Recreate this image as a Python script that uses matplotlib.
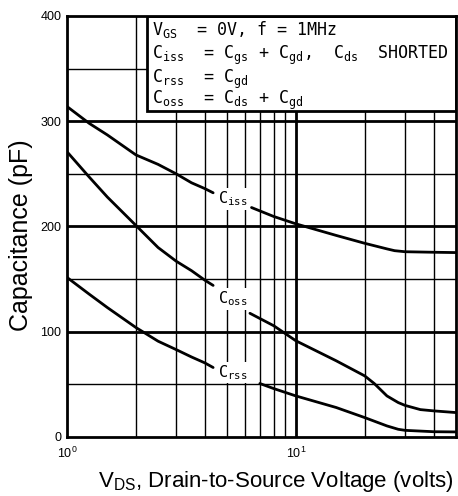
import numpy as np
import matplotlib
matplotlib.use("Agg")
import matplotlib.pyplot as plt
from matplotlib.patches import Rectangle
from matplotlib import font_manager

# ---- data ----
ciss_x1 = [1, 1.25, 1.5, 2, 2.5, 3, 3.5, 4, 4.35]
ciss_y1 = [314, 298, 287, 268, 259, 250, 241.5, 236, 232]
ciss_x2 = [6.4, 8, 10, 15, 20, 25, 27, 30, 40, 50]
ciss_y2 = [218, 209.5, 202.5, 191.5, 184, 178.7, 177, 176, 175.5, 175.2]

coss_x1 = [1, 1.25, 1.5, 2, 2.5, 3, 3.5, 4, 4.35]
coss_y1 = [271, 247, 228, 201, 180, 167, 158, 149, 144]
coss_x2 = [6.3, 8, 10, 15, 20, 22, 25, 28, 30, 35, 40, 50]
coss_y2 = [117.5, 105.7, 91.4, 72.4, 58, 50.8, 39, 32.7, 30, 26, 24.8, 23.2]

crss_x1 = [1, 1.25, 1.5, 2, 2.5, 3, 3.5, 4, 4.35]
crss_y1 = [151.6, 135.7, 123, 104, 91, 83, 76, 70.4, 66]
crss_x2 = [6.96, 8, 10, 15, 20, 25, 28, 30, 40, 50]
crss_y2 = [50.8, 46, 39, 28, 18.4, 10.5, 7.3, 6.3, 5, 4.8]

y_ticks = [0, 100, 200, 300, 400]
x_ticks = [1, 10]
x_ticklabels = ["$10^0$", "$10^1$"]

legend_lines = [
    r"V$_{GS}$  = 0V, f = 1MHz",
    r"C$_{iss}$  = C$_{gs}$ + C$_{gd}$,  C$_{ds}$  SHORTED",
    r"C$_{rss}$  = C$_{gd}$",
    r"C$_{oss}$  = C$_{ds}$ + C$_{gd}$",
]

plt.rcParams['mathtext.default'] = 'regular'

names = {f.name for f in font_manager.fontManager.ttflist}
if 'Liberation Sans Narrow' in names:
    xl_family, xl_size = 'Liberation Sans Narrow', 19.5
else:
    xl_family, xl_size = 'Liberation Sans', 16

fig = plt.figure(figsize=(4.58, 4.96), dpi=100)
ax = fig.add_axes([0.1463, 0.119, 0.849, 0.8488])
ax.set_xscale('log')
ax.set_xlim(1, 50)
ax.set_ylim(0, 400)

# grid
for v in [2, 3, 4, 5, 6, 7, 8, 9, 20, 30, 40]:
    ax.axvline(v, color='black', lw=1.0, zorder=1)
ax.axvline(10, color='black', lw=2.0, zorder=1)
for v in [50, 150, 250, 350]:
    ax.axhline(v, color='black', lw=1.0, zorder=1)
for v in [100, 200, 300]:
    ax.axhline(v, color='black', lw=2.0, zorder=1)

# curves
lw = 2.0
for xs, ys in [(ciss_x1, ciss_y1), (ciss_x2, ciss_y2),
               (coss_x1, coss_y1), (coss_x2, coss_y2),
               (crss_x1, crss_y1), (crss_x2, crss_y2)]:
    ax.plot(xs, ys, color='black', lw=lw, zorder=3,
            solid_joinstyle='round', solid_capstyle='round')

mono = 'DejaVu Sans Mono'
lbl_kw = dict(fontsize=11, family=mono, ha='left', va='center', zorder=4,
              bbox=dict(facecolor='white', edgecolor='none', pad=1.0))
ax.text(4.55, 226, r"C$_{iss}$", **lbl_kw)
ax.text(4.55, 131, r"C$_{oss}$", **lbl_kw)
ax.text(4.55, 61, r"C$_{rss}$", **lbl_kw)

# legend box
rect = Rectangle((0.206, 0.774), 0.794, 0.226, transform=ax.transAxes,
                 facecolor='white', edgecolor='black', lw=2.0, zorder=5)
ax.add_patch(rect)
ys_txt = [0.955, 0.898, 0.841, 0.791]
for s, yy in zip(legend_lines, ys_txt):
    ax.text(0.218, yy, s, transform=ax.transAxes, fontsize=12, family=mono,
            ha='left', va='baseline', zorder=6)

for sp in ax.spines.values():
    sp.set_linewidth(2.0)
    sp.set_zorder(7)

ax.set_yticks(y_ticks)
ax.set_yticklabels([str(v) for v in y_ticks], fontsize=9, family='Liberation Sans')
ax.set_xticks(x_ticks)
ax.set_xticklabels(x_ticklabels, fontsize=9, family='Liberation Sans')
ax.xaxis.set_minor_locator(matplotlib.ticker.NullLocator())
ax.tick_params(axis='both', length=0, pad=4)
ax.tick_params(axis='x', pad=6)

fig.text(21 / 458, 1 - 235 / 496, "Capacitance (pF)", rotation=90,
         fontsize=18, family='Liberation Sans', ha='center', va='center')
fig.text(276 / 458, 1 - 487 / 496, r"V$_{DS}$, Drain-to-Source Voltage (volts)",
         fontsize=xl_size, family=xl_family, ha='center', va='baseline')

fig.savefig("out.png", dpi=100)
